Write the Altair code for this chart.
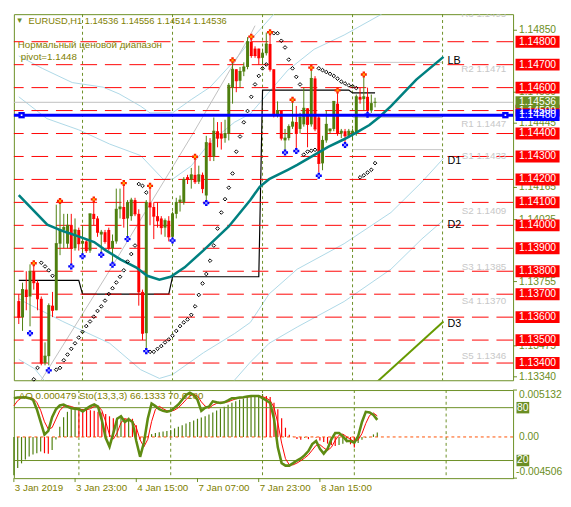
import altair as alt
import pandas as pd

W, HM, HI = 510, 374, 90
OLIVE = "#6B8E23"
TXT = "#808000"
BULL = "#4E7F0E"
BEAR = "#FF0000"
FONT = "Liberation Sans"

# ---------------- candles (EURUSD H1) ----------------
opens = [1.1367, 1.1360, 1.1372, 1.1369, 1.1380, 1.1375, 1.1368, 1.1340, 1.1343, 1.1365,
         1.1363, 1.1392, 1.1398, 1.1392, 1.1400, 1.1390, 1.1398, 1.1392, 1.1393, 1.1389,
         1.1405, 1.1403, 1.1396, 1.1397, 1.1398, 1.1390, 1.1393, 1.1407, 1.1408, 1.1403,
         1.1404, 1.1411, 1.1405, 1.1371, 1.1353, 1.1410, 1.1408, 1.1404, 1.1403, 1.1399,
         1.1402, 1.1395, 1.1405, 1.1410, 1.1410, 1.1421, 1.1420, 1.1422, 1.1419, 1.1422,
         1.1413, 1.1436, 1.1430, 1.1441, 1.1440, 1.1438, 1.1440, 1.1460, 1.1468, 1.1463,
         1.1467, 1.1469, 1.1480, 1.1477, 1.1477, 1.1473, 1.1475, 1.1479, 1.1468, 1.1448,
         1.1450, 1.1437, 1.1438, 1.1443, 1.1445, 1.1442, 1.1444, 1.1451, 1.1444, 1.1464,
         1.1447, 1.1427, 1.1437, 1.1441, 1.1442, 1.1453, 1.1440, 1.1441, 1.1439, 1.1440,
         1.1440, 1.1456, 1.1455, 1.1456, 1.1450, 1.14536]
highs = [1.1370, 1.1375, 1.1380, 1.1383, 1.1383, 1.1376, 1.1369, 1.1349, 1.1366, 1.1371,
         1.1409, 1.1410, 1.1405, 1.1405, 1.1405, 1.1403, 1.1399, 1.1400, 1.1394, 1.1405,
         1.1411, 1.1404, 1.1398, 1.1398, 1.1399, 1.1396, 1.1416, 1.1416, 1.1418, 1.1411,
         1.1412, 1.1412, 1.1407, 1.1372, 1.1411, 1.1418, 1.1410, 1.1410, 1.1404, 1.1403,
         1.1404, 1.1406, 1.1412, 1.1413, 1.1421, 1.1422, 1.1425, 1.1429, 1.1426, 1.1423,
         1.1439, 1.1438, 1.1447, 1.1445, 1.1445, 1.1446, 1.1462, 1.1471, 1.1468, 1.1469,
         1.1471, 1.1482, 1.1482, 1.1478, 1.1477, 1.1477, 1.1484, 1.1484, 1.1468, 1.1454,
         1.1450, 1.1442, 1.1444, 1.1454, 1.1452, 1.1449, 1.1460, 1.1451, 1.1468, 1.1465,
         1.1448, 1.1439, 1.1450, 1.1442, 1.1454, 1.1458, 1.1442, 1.1442, 1.1442, 1.1442,
         1.1457, 1.1460, 1.1465, 1.1460, 1.1457, 1.14556]
lows = [1.1357, 1.1354, 1.1363, 1.1356, 1.1372, 1.1363, 1.1339, 1.1339, 1.1339, 1.1360,
        1.1363, 1.1387, 1.1390, 1.1390, 1.1383, 1.1389, 1.1389, 1.1387, 1.1388, 1.1388,
        1.1400, 1.1395, 1.1388, 1.1392, 1.1389, 1.1384, 1.1392, 1.1403, 1.1399, 1.1395,
        1.1402, 1.1404, 1.1365, 1.1350, 1.1346, 1.1400, 1.1394, 1.1399, 1.1396, 1.1395,
        1.1393, 1.1394, 1.1403, 1.1406, 1.1409, 1.1418, 1.1416, 1.1418, 1.1418, 1.1414,
        1.1410, 1.1428, 1.1428, 1.1434, 1.1433, 1.1436, 1.1437, 1.1453, 1.1458, 1.1460,
        1.1465, 1.1468, 1.1473, 1.1473, 1.1470, 1.1470, 1.1474, 1.1467, 1.1447, 1.1447,
        1.1437, 1.1431, 1.1437, 1.1442, 1.1433, 1.1440, 1.1443, 1.1434, 1.1443, 1.1441,
        1.1423, 1.1424, 1.1436, 1.1440, 1.1441, 1.1439, 1.1438, 1.1436, 1.1438, 1.1437,
        1.1439, 1.1453, 1.1450, 1.1449, 1.1449, 1.14514]
closes = [1.1360, 1.1372, 1.1369, 1.1380, 1.1375, 1.1368, 1.1340, 1.1343, 1.1365, 1.1363,
          1.1392, 1.1398, 1.1399, 1.1400, 1.1390, 1.1398, 1.1392, 1.1393, 1.1389, 1.1405,
          1.1403, 1.1397, 1.1397, 1.1393, 1.1390, 1.1393, 1.1407, 1.1408, 1.1403, 1.1410,
          1.1411, 1.1405, 1.1371, 1.1353, 1.1410, 1.1408, 1.1404, 1.1402, 1.1399, 1.1402,
          1.1395, 1.1405, 1.1410, 1.1411, 1.1420, 1.1420, 1.1422, 1.1419, 1.1422, 1.1416,
          1.1436, 1.1430, 1.1441, 1.1438, 1.1438, 1.1440, 1.1461, 1.1468, 1.1463, 1.1467,
          1.1469, 1.1480, 1.1474, 1.1474, 1.1473, 1.1475, 1.1479, 1.1468, 1.1448, 1.1450,
          1.1438, 1.1438, 1.1443, 1.1445, 1.1440, 1.1447, 1.1451, 1.1444, 1.1464, 1.1442,
          1.1427, 1.1437, 1.1444, 1.1442, 1.1454, 1.1440, 1.1441, 1.1439, 1.1441, 1.1441,
          1.1456, 1.1455, 1.1456, 1.1450, 1.1453, 1.14536]

# ---------------- shifted moving average (teal) ----------------
ma_bars = [0, 7.6, 11.75, 15.9, 20.1, 23, 27.2, 31.25, 34.25, 37.5, 40.5, 44.25, 49.25, 56,
           61.75, 64.25, 66.75, 71.75, 74.25, 78.5, 82.5, 86.75, 90, 93.5, 96, 99.25, 106, 113.25]
ma_vals = [1.14132, 1.14003, 1.13975, 1.13952, 1.13927, 1.13893, 1.13851, 1.13817, 1.13780,
           1.13763, 1.13776, 1.13817, 1.13891, 1.13995, 1.14110, 1.14168, 1.14201, 1.14242,
           1.14263, 1.14304, 1.14342, 1.14375, 1.14404, 1.14437, 1.14470, 1.14519, 1.14635, 1.14734]

# ---------------- envelope lines (light blue) ----------------
up2_bars = [0, 6.25, 14.25, 22.5, 26.75, 32.5, 35, 41, 46, 51, 57.5, 63, 68]
up2_vals = [1.14738, 1.14684, 1.14622, 1.14602, 1.14573, 1.14519, 1.14490, 1.14490, 1.14548,
            1.14602, 1.14717, 1.14829, 1.14920]
up1_bars = [0, 7.5, 16, 24.25, 32.5, 38.5, 41, 46, 51, 57.5, 61.75, 66.75, 71.75, 78.75, 86.75, 96.75]
up1_vals = [1.14560, 1.14465, 1.14416, 1.14354, 1.14304, 1.14201, 1.14201, 1.14259, 1.14362,
            1.14449, 1.14486, 1.14581, 1.14676, 1.14767, 1.14829, 1.14920]
lo1_bars = [0, 1.75, 11.75, 24.25, 32.5, 37.5, 41, 49.25, 57.5, 61.75, 66.75, 74.25, 86.75, 99.25, 107.5, 113.25]
lo1_vals = [1.13681, 1.13664, 1.13581, 1.13486, 1.13371, 1.13333, 1.13350, 1.13445, 1.13528,
            1.13577, 1.13701, 1.13809, 1.13920, 1.14056, 1.14189, 1.14292]
lo2_bars = [0, 4.25, 6.75, 14.25, 36.75, 53, 57.5, 61.75, 66.75, 74.25, 86.75, 99.25, 107.5, 113.25]
lo2_vals = [1.13416, 1.13375, 1.13325, 1.13197, 1.12994, 1.13197, 1.13325, 1.13404, 1.13486,
            1.13557, 1.13668, 1.13809, 1.13941, 1.14023]

# gray channel line
gd_bars = [4.25, 23.5, 46.75, 61.75, 63]
gd_vals = [1.13280, 1.13784, 1.14408, 1.14829, 1.14870]

# green D3 line
d3_bars = [95, 113.25]
d3_vals = [1.13310, 1.13581]

# ---------------- parabolic SAR ----------------
sar_bars = list(range(4, 67)) + list(range(68, 96))
sar_vals = [1.13329, 1.13379, 1.13837, 1.13821, 1.13804, 1.13780,
            1.13371, 1.13379, 1.13412, 1.13437, 1.13462, 1.13486, 1.13511, 1.13536, 1.13561,
            1.13581, 1.13602, 1.13627, 1.13647, 1.13672, 1.13701, 1.13726, 1.13751, 1.13776,
            1.13804, 1.13842, 1.13875, 1.13912,
            1.14180, 1.14172, 1.14143,
            1.13449, 1.13449, 1.13462, 1.13474, 1.13490, 1.13503, 1.13519, 1.13540, 1.13561,
            1.13577, 1.13590, 1.13610, 1.13647, 1.13697, 1.13747, 1.13788, 1.13846, 1.13912,
            1.13986, 1.14056, 1.14114, 1.14164, 1.14226, 1.14321, 1.14387, 1.14449, 1.14498,
            1.14560, 1.14614, 1.14651, 1.14684, 1.14701,
            1.14837, 1.14837, 1.14804, 1.14775, 1.14722, 1.14684, 1.14647, 1.14614,
            1.14308, 1.14321, 1.14325, 1.14329,
            1.14684, 1.14676, 1.14668, 1.14660, 1.14651, 1.14639, 1.14626, 1.14618, 1.14610,
            1.14606, 1.14598,
            1.14209, 1.14218, 1.14230, 1.14242, 1.14271]

# ---------------- fractals ----------------
up_bars = [4, 11, 20, 28, 35, 47, 57, 62, 67, 73, 78, 85, 92]
up_vals = [1.13835, 1.14106, 1.14113, 1.14184, 1.14172, 1.14299, 1.14719, 1.14822, 1.14841,
           1.14547, 1.14687, 1.14588, 1.14657]
dn_bars = [3, 8, 14, 17, 22, 25, 29, 34, 41, 50, 71, 74, 80, 87, 93]
dn_vals = [1.13530, 1.13368, 1.13821, 1.13865, 1.13872, 1.13828, 1.13940, 1.13452, 1.13934,
           1.14097, 1.14317, 1.14324, 1.14216, 1.14350, 1.14482]

# ---------------- daily pivot (black step) ----------------
day_start = [0, 17, 41, 65, 89]
day_pivot = [1.13760, 1.13700, 1.13776, 1.14589, 1.14577]
last_bar = 95

# ---------------- levels ----------------
red_levels = [1.134, 1.135, 1.136, 1.137, 1.138, 1.139, 1.140, 1.141, 1.142, 1.143,
              1.144, 1.145, 1.146, 1.147, 1.148]
blue_level = 1.1448
bid_level = 1.14536
piv_names = ["R3", "R2", "R1", "S1", "S2", "S3", "S4", "S5"]
piv_vals = [1.1495, 1.1471, 1.1447, 1.1433, 1.1409, 1.1385, 1.1370, 1.1346]
piv_line_names = ["R2", "R1", "S1"]
piv_line_start, piv_line_end = 89, 113
axis_ticks = [1.14850, 1.14580, 1.14445, 1.14165, 1.14025, 1.13755, 1.13475, 1.13340]
separators = [17, 41, 65, 89, 113]
obj_labels = ["LB", "D1", "D2", "D3"]
obj_vals = [1.14717, 1.14279, 1.13999, 1.13569]
obj_bar = 114.3

# ---------------- indicators ----------------
ao = [-0.00420, -0.00341, -0.00289, -0.00247, -0.00213, -0.00192, -0.00178, -0.00160, -0.00178, -0.00185,
      -0.00143, -0.00028, 0.00111, 0.00216, 0.00275, 0.00303, 0.00317, 0.00314, 0.00307, 0.00303,
      0.00293, 0.00286, 0.00275, 0.00268, 0.00251, 0.00226, 0.00206, 0.00209, 0.00213, 0.00206,
      0.00213, 0.00199, 0.00129, -0.00028, -0.00063, 0.00007, 0.00031, 0.00042, 0.00052, 0.00059,
      0.00066, 0.00077, 0.00094, 0.00111, 0.00129, 0.00146, 0.00164, 0.00181, 0.00199, 0.00213,
      0.00226, 0.00247, 0.00268, 0.00289, 0.00310, 0.00331, 0.00352, 0.00373, 0.00390, 0.00408,
      0.00422, 0.00436, 0.00446, 0.00453, 0.00460, 0.00470, 0.00449, 0.00436, 0.00373, 0.00303,
      0.00206, 0.00101, 0.00024, 0.00003, -0.00021, -0.00031, -0.00010, -0.00024, 0.00003, -0.00010,
      -0.00038, -0.00056, -0.00073, -0.00087, -0.00098, -0.00087, -0.00073, -0.00059, -0.00080, -0.00115,
      -0.00066, -0.00031, -0.00010, -0.00003, 0.00028, 0.000479]
stoch_k = [90.8, 91.5, 91.5, 91.9, 90.8, 89.0, 78.2, 63.8, 49.4, 53.7,
           69.2, 78.2, 82.5, 83.6, 81.1, 79.3, 78.9, 78.2, 75.7, 78.9,
           81.8, 83.6, 81.1, 65.6, 45.8, 35.8, 51.2, 67.4, 70.3, 63.8,
           66.7, 63.8, 42.2, 24.2, 40.4, 67.4, 84.7, 81.8, 78.2, 76.4,
           75.3, 76.4, 80.0, 83.6, 89.0, 94.4, 96.9, 94.4, 89.0, 76.4,
           80.0, 81.1, 87.2, 86.1, 85.4, 86.1, 88.3, 90.8, 90.8, 91.5,
           91.9, 92.6, 93.3, 93.3, 93.3, 90.8, 88.3, 85.4, 67.4, 35.0,
           17.0, 14.2, 14.2, 17.0, 20.0, 22.4, 26.0, 30.7, 38.6, 42.2,
           33.2, 27.8, 33.2, 44.0, 51.2, 51.2, 47.6, 42.2, 42.2, 40.4,
           47.6, 63.8, 75.3, 74.6, 71.7, 66.1333]
stoch_d = [82.0, 88.0, 91.0, 91.6, 91.4, 90.6, 86.0, 77.0, 64.0, 55.6,
           57.4, 67.0, 76.6, 81.4, 82.4, 81.3, 79.8, 78.8, 77.6, 77.6,
           78.8, 81.4, 82.2, 76.8, 64.2, 49.1, 44.3, 51.5, 63.0, 67.2,
           66.9, 64.8, 57.6, 43.4, 35.6, 44.0, 64.2, 78.0, 81.6, 78.8,
           76.6, 76.0, 77.2, 80.0, 84.2, 89.0, 93.4, 95.2, 93.4, 86.6,
           81.8, 79.2, 82.8, 84.8, 86.2, 85.9, 86.6, 88.4, 90.0, 91.0,
           91.4, 92.0, 92.6, 93.1, 93.3, 92.5, 90.8, 88.2, 80.4, 62.6,
           39.8, 22.1, 15.1, 15.1, 17.1, 19.8, 22.8, 26.4, 31.8, 37.2,
           38.0, 34.4, 31.4, 35.0, 42.8, 48.8, 50.0, 47.0, 44.0, 41.6,
           43.4, 50.6, 62.2, 71.2, 73.9, 70.618]
ao_min, ao_max = -0.004506, 0.005132
xt_bars = [0, 16, 32, 48, 64, 80]
xt_labels = ["3 Jan 2019", "3 Jan 23:00", "4 Jan 15:00", "7 Jan 07:00", "7 Jan 23:00", "8 Jan 15:00"]

# ======================================================================
xs = alt.Scale(domain=[0, 130.5], nice=False, zero=False)
ys = alt.Scale(domain=[1.13325, 1.14920], nice=False, zero=False)
aos = alt.Scale(domain=[ao_min, ao_max], nice=False, zero=False)
sts = alt.Scale(domain=[0, 100], nice=False, zero=False)
BOX = "M-1,-0.27L1,-0.27L1,0.27L-1,0.27Z"
SBOX = "M-1,-0.9L1,-0.9L1,0.9L-1,0.9Z"


def X(f="i"):
    return alt.X(f + ":Q", scale=xs, axis=None)


def Y(f="p"):
    return alt.Y(f + ":Q", scale=ys, axis=None)


def txt(s, x, y, size=10, color=TXT, align="left"):
    return alt.Chart(pd.DataFrame({"t": [s]})).mark_text(
        align=align, baseline="middle", fontSize=size, font=FONT, color=color
    ).encode(x=alt.value(x), y=alt.value(y), text="t:N")


def pts(bars, vals, name=None):
    d = pd.DataFrame({"i": bars, "p": vals})
    if name is not None:
        d["k"] = name
    return d


cdf = pd.DataFrame({"i": list(range(len(opens))), "o": opens, "h": highs, "l": lows, "c": closes})
cdf["col"] = [BULL if c >= o else BEAR for o, c in zip(opens, closes)]
col = alt.Color("col:N", scale=None)

env = pd.concat([pts(up2_bars, up2_vals, "u2"), pts(up1_bars, up1_vals, "u1"),
                 pts(lo1_bars, lo1_vals, "l1"), pts(lo2_bars, lo2_vals, "l2")])

piv_rows = []
for k, s in enumerate(day_start):
    e = day_start[k + 1] - 1 if k + 1 < len(day_start) else last_bar
    for b in range(s, e + 1):
        piv_rows.append({"i": b, "p": day_pivot[k]})
pivdf = pd.DataFrame(piv_rows)

layers = []
layers.append(alt.Chart(env).mark_line(color="#ADD8E6", strokeWidth=1, clip=True).encode(
    x=X(), y=Y(), detail="k:N", order="i:Q"))
layers.append(alt.Chart(pts(gd_bars, gd_vals)).mark_line(color="#C0C0C0", strokeWidth=1, clip=True).encode(
    x=X(), y=Y(), order="i:Q"))
pl = pd.DataFrame({"p": [v for n, v in zip(piv_names, piv_vals) if n in piv_line_names]})
pl["a"] = piv_line_start
pl["b"] = piv_line_end
layers.append(alt.Chart(pl).mark_rule(color="#C8C8C8", strokeWidth=1).encode(
    x=X("a"), x2="b:Q", y=Y()))
layers.append(alt.Chart(pd.DataFrame({"p": [bid_level]})).mark_rule(color="#C0C0C0", strokeWidth=1).encode(y=Y()))
layers.append(alt.Chart(pd.DataFrame({"i": separators})).mark_rule(
    color=OLIVE, strokeDash=[3, 3], strokeWidth=1).encode(x=X()))
layers.append(alt.Chart(pivdf).mark_line(color="black", strokeWidth=1.2).encode(x=X(), y=Y(), order="i:Q"))
layers.append(alt.Chart(pd.DataFrame({"p": red_levels})).mark_rule(
    color="#FF0000", strokeDash=[17, 8], strokeWidth=1).encode(y=Y()))
# candles
layers.append(alt.Chart(cdf).mark_rule(strokeWidth=1).encode(x=X(), y=Y("l"), y2="h:Q", color=col))
layers.append(alt.Chart(cdf).mark_bar(width=3, opacity=1).encode(x=X(), y=Y("o"), y2="c:Q", color=col))
layers.append(alt.Chart(cdf).mark_tick(orient="horizontal", size=3, thickness=1, opacity=1).encode(
    x=X(), y=Y("c"), color=col))
# teal MA
layers.append(alt.Chart(pts(ma_bars, ma_vals)).mark_line(color="#008080", strokeWidth=2.6).encode(
    x=X(), y=Y(), order="i:Q"))
# SAR
layers.append(alt.Chart(pts(sar_bars, sar_vals)).mark_point(
    shape="diamond", filled=False, size=14, color="black", strokeWidth=1, opacity=1).encode(x=X(), y=Y()))
# fractals
layers.append(alt.Chart(pts(up_bars, up_vals)).mark_point(
    shape="cross", filled=True, size=38, color="#FF2000", opacity=1).encode(x=X(), y=Y()))
layers.append(alt.Chart(pts(up_bars, up_vals)).mark_point(
    shape="square", filled=True, size=5, color="#FFB000", opacity=1).encode(x=X(), y=Y()))
layers.append(alt.Chart(pts(dn_bars, dn_vals)).mark_point(
    shape="cross", filled=True, size=38, color="#0000FF", opacity=1).encode(x=X(), y=Y()))
layers.append(alt.Chart(pts(dn_bars, dn_vals)).mark_point(
    shape="square", filled=True, size=5, color="#9090FF", opacity=1).encode(x=X(), y=Y()))
# blue pivot line with end squares
layers.append(alt.Chart(pd.DataFrame({"p": [blue_level]})).mark_rule(color="#0000FF", strokeWidth=3).encode(y=Y()))
sq = pd.DataFrame({"i": [0.75, 129.75], "p": [blue_level, blue_level]})
layers.append(alt.Chart(sq).mark_square(size=42, color="#0000FF", opacity=1).encode(x=X(), y=Y()))
layers.append(alt.Chart(sq).mark_square(size=3, color="white", opacity=1).encode(x=X(), y=Y()))
# D3 green line
layers.append(alt.Chart(pts(d3_bars, d3_vals)).mark_line(color="#669900", strokeWidth=2, clip=True).encode(
    x=X(), y=Y(), order="i:Q"))
# object labels
ol = pd.DataFrame({"t": obj_labels, "p": obj_vals})
ol["i"] = obj_bar
layers.append(alt.Chart(ol).mark_text(align="left", baseline="middle", fontSize=11, font=FONT, color="black").encode(
    x=X(), y=Y(), text="t:N"))
# pivot labels
pv = pd.DataFrame({"n": piv_names, "p": piv_vals})
pv["t"] = [f"{n} {v:.4f}" for n, v in zip(piv_names, piv_vals)]
pv["i"] = 130
layers.append(alt.Chart(pv).mark_text(align="right", baseline="top", dy=2, fontSize=10, font=FONT,
                                      color="#C8C8C8", clip=True).encode(x=X(), y=Y(), text="t:N"))
# right price axis
at = pd.DataFrame({"p": axis_ticks})
layers.append(alt.Chart(at).mark_rule(color=OLIVE).encode(x=alt.value(W), x2=alt.value(W + 4), y=Y()))
layers.append(alt.Chart(at).mark_text(align="left", baseline="middle", fontSize=10.5, font=FONT, color=OLIVE).encode(
    x=alt.value(W + 6), y=Y(), text=alt.Text("p:Q", format=".5f")))
boxes = pd.DataFrame({"p": red_levels + [blue_level, bid_level],
                      "bg": ["#FF0000"] * len(red_levels) + ["#0000FF", OLIVE]})
layers.append(alt.Chart(boxes).mark_point(shape=BOX, size=2025, filled=True, opacity=1, strokeWidth=0).encode(
    x=alt.value(W + 25), y=Y(), color=alt.Color("bg:N", scale=None)))
layers.append(alt.Chart(boxes).mark_text(align="left", baseline="middle", fontSize=10.5, font=FONT, color="white").encode(
    x=alt.value(W + 6), y=Y(), text=alt.Text("p:Q", format=".5f")))
# header texts
layers.append(txt("\u25BC", 6, 7, size=8, color=OLIVE, align="center"))
layers.append(txt("EURUSD,H1  " + " ".join(f"{v:.5f}" for v in [opens[-1], highs[-1], lows[-1], closes[-1]]),
                  15, 7, size=9.5, color=TXT))
layers.append(txt("Нормальный ценовой диапазон", 4, 32, size=10, color=TXT))
layers.append(txt(f"pivot={blue_level:.4f}", 7, 44, size=10, color=TXT))

main = alt.layer(*layers).properties(width=W, height=HM)

# ---------------- indicator panel ----------------
idf = pd.DataFrame({"i": list(range(len(ao))), "a": ao, "k": stoch_k, "d": stoch_d})
idf["z"] = 0.0
idf["col"] = [BULL if (j == 0 or ao[j] > ao[j - 1]) else BEAR for j in range(len(ao))]
xt = pd.DataFrame({"i": xt_bars, "t": xt_labels})

ao_group = alt.layer(
    alt.Chart(pd.DataFrame({"i": separators})).mark_rule(color=OLIVE, strokeDash=[3, 3], strokeWidth=1).encode(
        x=X(), y=alt.value(0), y2=alt.value(HI)),
    alt.Chart(idf).mark_rule(strokeWidth=1.2).encode(
        x=X(), y=alt.Y("z:Q", scale=aos, axis=None), y2="a:Q", color=col),
    alt.Chart(pd.DataFrame({"z": [0.0]})).mark_rule(color="#FF5000", strokeDash=[3, 3], strokeWidth=1).encode(
        y=alt.Y("z:Q", scale=aos, axis=None)),
    alt.Chart(pd.DataFrame({"z": [0.0]})).mark_text(align="left", baseline="middle", fontSize=10.5, font=FONT,
                                                   color=OLIVE).encode(
        x=alt.value(W + 6), y=alt.Y("z:Q", scale=aos, axis=None), text=alt.Text("z:Q", format=".2f")),
)
lv = pd.DataFrame({"s": [80, 20]})
st_group = alt.layer(
    alt.Chart(lv).mark_rule(color=OLIVE, strokeWidth=1).encode(y=alt.Y("s:Q", scale=sts, axis=None)),
    alt.Chart(idf).mark_line(color="#FF0000", strokeWidth=1).encode(
        x=X(), y=alt.Y("d:Q", scale=sts, axis=None), order="i:Q"),
    alt.Chart(idf).mark_line(color="#5E8B12", strokeWidth=2.6).encode(
        x=X(), y=alt.Y("k:Q", scale=sts, axis=None), order="i:Q"),
    alt.Chart(lv).mark_point(shape=SBOX, size=169, filled=True, opacity=1, strokeWidth=0, color=OLIVE).encode(
        x=alt.value(W + 10), y=alt.Y("s:Q", scale=sts, axis=None)),
    alt.Chart(lv).mark_text(align="left", baseline="middle", fontSize=10.5, font=FONT, color="white").encode(
        x=alt.value(W + 4), y=alt.Y("s:Q", scale=sts, axis=None), text="s:Q"),
)
ind_text = [
    txt(f"AO {ao[-1]:.6f}   Sto(13,3,3) {stoch_k[-1]:.4f} {stoch_d[-1]:.4f}", 5, 6, size=10, color=TXT),
    txt(f"{ao_max:.6f}", W + 6, 5, size=10.5, color=OLIVE),
    txt(f"{ao_min:.6f}", W + 3, HI - 6, size=10.5, color=OLIVE),
    alt.Chart(pd.DataFrame({"p": [ao_max, ao_min]})).mark_rule(color=OLIVE).encode(
        x=alt.value(W), x2=alt.value(W + 4), y=alt.Y("p:Q", scale=aos, axis=None)),
    # time axis (manual)
    alt.Chart(xt).mark_rule(color=OLIVE, strokeWidth=1).encode(x=X(), y=alt.value(HI), y2=alt.value(HI + 4)),
    alt.Chart(xt).mark_text(align="left", baseline="middle", dx=1, fontSize=10, font=FONT, color=TXT).encode(
        x=X(), y=alt.value(HI + 10), text="t:N"),
]
ind = alt.layer(ao_group, st_group, *ind_text).resolve_scale(y="independent").properties(width=W, height=HI)

chart = alt.vconcat(main, ind, spacing=3).properties(
    padding={"left": 0, "right": 0, "top": 0, "bottom": 0}, background="white"
).configure_view(stroke=OLIVE, strokeWidth=1)

chart.save("out.html", embed_options={"renderer": "svg", "actions": False})
